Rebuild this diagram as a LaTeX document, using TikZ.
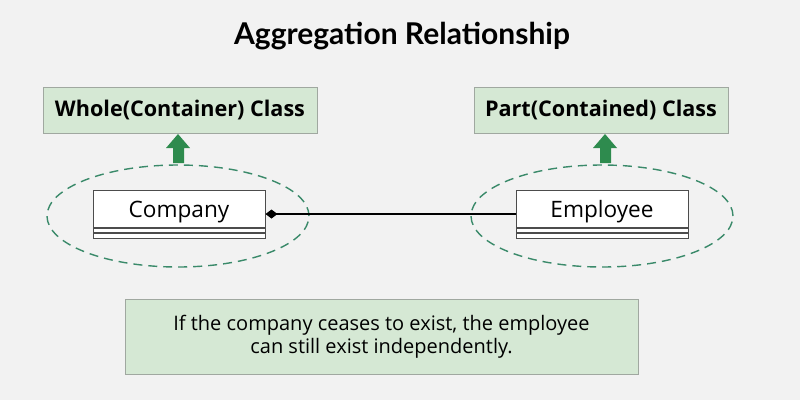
\documentclass[tikz,border=0pt]{standalone}
\usepackage{fontspec}
\setmainfont{Open Sans}
\newfontfamily\titlefont{Lato}
\usetikzlibrary{shapes.geometric,arrows.meta}
\definecolor{bg}{HTML}{F2F2F2}
\definecolor{boxfill}{HTML}{D5E8D4}
\definecolor{boxline}{HTML}{A0A8A0}
\definecolor{arrowgreen}{HTML}{2E8B4E}
\definecolor{ellgreen}{HTML}{3A8A6A}
\tikzset{
  labelbox/.style={draw=boxline, fill=boxfill, line width=0.8pt, minimum height=46pt, inner sep=0pt, font=\fontsize{21.6}{26}\selectfont\bfseries},
  classname/.style={draw=black!70, fill=white, line width=1pt, minimum width=172pt, minimum height=37pt, inner sep=0pt, text height=19pt, text depth=2pt, font=\fontsize{22.6}{27}\selectfont},
  compart/.style={draw=black!70, fill=white, line width=1pt, minimum width=172pt, minimum height=4.5pt, inner sep=0pt},
  scope/.style={draw=ellgreen, dashed, dash pattern=on 9pt off 6pt, line width=1.4pt, ellipse, minimum width=262pt, minimum height=102pt},
  upfat/.style={fill=arrowgreen, draw=none},
}
\begin{document}
\begin{tikzpicture}[x=1pt,y=-1pt]
\fill[bg] (0,0) rectangle (800,400);
\useasboundingbox (0,0) rectangle (800,400);
\node[font=\titlefont\fontsize{30}{36}\selectfont\bfseries] (title) at (402,36) {Aggregation Relationship};
\node[labelbox, minimum width=274pt] (whole) at (180,110) {Whole(Container) Class};
\node[labelbox, minimum width=254pt] (part) at (601,110) {Part(Contained) Class};
\node[scope] (ellL) at (178,216) {};
\node[scope] (ellR) at (602,216) {};
\node[classname] (company) at (179,208.5) {Company};
\node[compart, anchor=north] (c1) at (company.south) {};
\node[compart, anchor=north] (c2) at (c1.south) {};
\node[classname] (employee) at (602,208.5) {Employee};
\node[compart, anchor=north] (e1) at (employee.south) {};
\node[compart, anchor=north] (e2) at (e1.south) {};
\draw[line width=1.3pt, {Diamond[length=12pt,width=9pt]}-] (company.east |- 0,214) coordinate (cend) -- (employee.west |- 0,214) coordinate (eend);
\fill[upfat] (178,134) coordinate (aL) -- (190,148) -- (184,148) -- (184,163) -- (173,163) -- (173,148) -- (166,148) -- cycle;
\fill[upfat] (605,134) coordinate (aR) -- (617,148) -- (611,148) -- (611,163) -- (600,163) -- (600,148) -- (593,148) -- cycle;
\node[draw=boxline, fill=boxfill, line width=0.8pt, minimum width=513pt, minimum height=75pt, align=center, font=\fontsize{20}{23.5}\selectfont] (note) at (381.5,336.5) {If the company ceases to exist, the employee\\can still exist independently.};
\end{tikzpicture}
\end{document}
